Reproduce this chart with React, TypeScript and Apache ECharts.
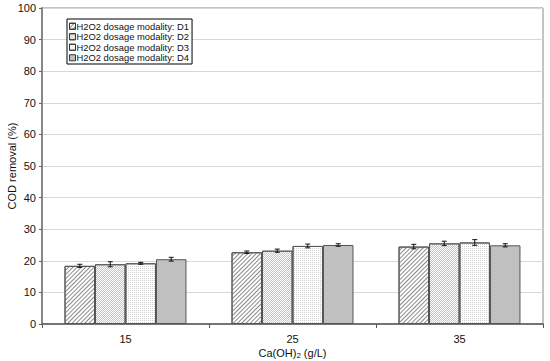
import React, { useEffect, useRef } from "react";
import * as echarts from "echarts";

const categories = ["15", "25", "35"];
const seriesNames = [
  "H2O2 dosage modality: D1",
  "H2O2 dosage modality: D2",
  "H2O2 dosage modality: D3",
  "H2O2 dosage modality: D4",
];
const d1 = [18.4, 22.7, 24.5];
const d2 = [18.9, 23.2, 25.5];
const d3 = [19.2, 24.7, 25.8];
const d4 = [20.5, 25.0, 24.9];
const e1 = [0.5, 0.4, 0.7];
const e2 = [0.8, 0.5, 0.7];
const e3 = [0.3, 0.6, 0.9];
const e4 = [0.6, 0.4, 0.5];
const yTicks = [0, 10, 20, 30, 40, 50, 60, 70, 80, 90, 100];

const values = [d1, d2, d3, d4];
const errors = [e1, e2, e3, e4];

const CAT_GAP = 0.27;

const decals: any[] = [
  {
    symbol: "rect",
    symbolSize: 1,
    color: "#8a8a8a",
    dashArrayX: [1, 0],
    dashArrayY: [1, 2],
    rotation: -Math.PI / 4,
  },
  {
    symbol: "rect",
    symbolSize: 1,
    color: "#c4c4c4",
    dashArrayX: [[1, 1], [0, 1, 1, 0]],
    dashArrayY: [1, 0],
    rotation: 0,
  },
  {
    symbol: "rect",
    symbolSize: 1,
    color: "#cfcfcf",
    dashArrayX: [1, 1],
    dashArrayY: [1, 1],
    rotation: 0,
  },
  null,
];
const fills = ["#ffffff", "#ffffff", "#ffffff", "#c0c0c0"];

export default function App() {
  const ref = useRef<HTMLDivElement>(null);
  useEffect(() => {
    if (!ref.current) return;
    const chart = echarts.init(ref.current, undefined, { renderer: "svg" });

    const barSeries = values.map((vals, i) => ({
      type: "bar",
      name: seriesNames[i],
      data: vals,
      barGap: "0%",
      barCategoryGap: CAT_GAP * 100 + "%",
      itemStyle: {
        color: fills[i],
        borderColor: "#555",
        borderWidth: 1,
        ...(decals[i] ? { decal: decals[i] } : {}),
      },
      emphasis: { disabled: true },
    }));

    const errData: any[] = [];
    values.forEach((vals, si) => {
      vals.forEach((v, ci) => {
        errData.push([ci, v, errors[si][ci], si]);
      });
    });

    const errSeries = {
      type: "custom",
      name: "err",
      data: errData,
      z: 10,
      renderItem: (params: any, api: any) => {
        const ci = api.value(0);
        const v = api.value(1);
        const e = api.value(2);
        const si = api.value(3);
        const band = api.size([1, 0])[0];
        const bw = (band * (1 - CAT_GAP)) / 4;
        const center = api.coord([ci, v]);
        const x = center[0] - (band * (1 - CAT_GAP)) / 2 + (si + 0.5) * bw;
        const top = api.coord([ci, v + e])[1];
        const bot = api.coord([ci, v - e])[1];
        const hw = 2.5;
        const style = { stroke: "#111", lineWidth: 1 };
        return {
          type: "group",
          children: [
            { type: "line", shape: { x1: x, y1: top, x2: x, y2: bot }, style },
            { type: "line", shape: { x1: x - hw, y1: top, x2: x + hw, y2: top }, style },
            { type: "line", shape: { x1: x - hw, y1: bot, x2: x + hw, y2: bot }, style },
          ],
        };
      },
    };

    chart.setOption({
      animation: false,
      backgroundColor: "#ffffff",
      textStyle: { fontFamily: "Liberation Sans, Arial, sans-serif" },
      grid: {
        left: 42,
        right: 7,
        top: 8,
        bottom: 37,
        outerBoundsMode: "none",
        containLabel: false,
        show: true,
        borderColor: "#888",
        borderWidth: 1,
        backgroundColor: "transparent",
      },
      legend: {
        data: seriesNames,
        orient: "vertical",
        left: 67,
        top: 19,
        itemWidth: 6,
        itemHeight: 6,
        itemGap: 0,
        padding: [2, 3, 1, 2],
        borderColor: "#000",
        borderWidth: 1,
        backgroundColor: "#fff",
        icon: "rect",
        itemStyle: { borderColor: "#333", borderWidth: 1 },
        textStyle: {
          fontSize: 9.4,
          color: "#111",
          padding: [0, 0, 0, -4],
          fontFamily: "Liberation Sans, Arial, sans-serif",
          lineHeight: 10.5,
        },
        selectedMode: false,
      },
      xAxis: {
        type: "category",
        data: categories,
        name: "Ca(OH){sub|2} (g/L)",
        nameLocation: "middle",
        nameGap: 22,
        nameMoveOverlap: false,
        nameTextStyle: {
          fontSize: 11,
          color: "#111",
          rich: {
            sub: { fontSize: 8, verticalAlign: "bottom", padding: [5, 0, 0, 0], color: "#111" },
          },
        },
        axisLine: { lineStyle: { color: "#555", width: 1.5 } },
        axisTick: { show: true, inside: false, length: 4, lineStyle: { color: "#555" } },
        axisLabel: { fontSize: 11, color: "#111", margin: 9 },
      },
      yAxis: {
        type: "value",
        min: 0,
        max: 100,
        interval: 10,
        name: "COD removal (%)",
        nameLocation: "middle",
        nameGap: 25,
        nameMoveOverlap: false,
        nameRotate: 90,
        nameTextStyle: { fontSize: 11, color: "#111" },
        axisLine: { show: true, lineStyle: { color: "#888", width: 2 } },
        axisTick: { show: true, inside: false, length: 3, lineStyle: { color: "#666" } },
        axisLabel: {
          fontSize: 11,
          color: "#111",
          margin: 6,
          formatter: (v: number) => (yTicks.includes(v) ? String(v) : ""),
        },
        splitLine: { show: true, lineStyle: { color: "#d8d8d8", width: 1 } },
      },
      series: [...barSeries, errSeries],
    });
    return () => chart.dispose();
  }, []);
  return (
    <div
      ref={ref}
      style={{ position: "fixed", left: 0, top: 0, width: 550, height: 361 }}
    />
  );
}
